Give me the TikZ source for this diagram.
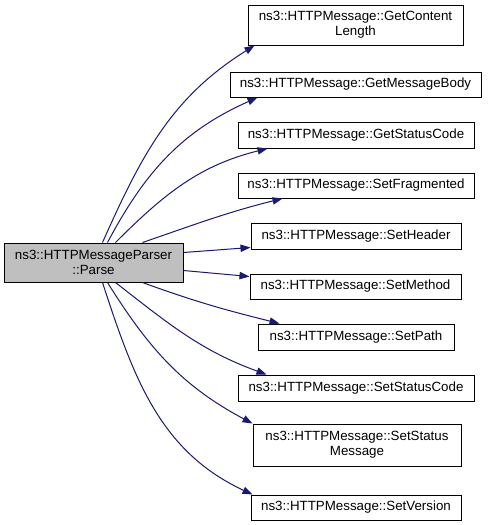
\documentclass[tikz,border=0pt]{standalone}
\usepackage{fontspec}
\setmainfont{Liberation Sans}
\usetikzlibrary{arrows.meta,calc}
\definecolor{edgeblue}{HTML}{191970}
\definecolor{boxgray}{HTML}{BFBFBF}
\tikzset{
  fbox/.style={draw=black, line width=0.75pt, rectangle, inner sep=0pt, align=center,
    font=\fontsize{10}{11.5}\selectfont, text=black},
  mainbox/.style={fbox, fill=boxgray},
  calls/.style={draw=edgeblue, line width=0.75pt, -{Triangle[length=7.5pt,width=5.5pt]}, edgeblue}
}
\begin{document}
\begin{tikzpicture}[x=0.75pt,y=0.75pt]
\useasboundingbox (0,0) rectangle (487,-525);
\node[mainbox, minimum width=179*0.75pt, minimum height=39*0.75pt] (p) at (93.5,-262.5) {ns3::HTTPMessageParser\\::Parse};
\node[fbox, minimum width=215*0.75pt, minimum height=40*0.75pt] (t1) at (355.5,-25) {ns3::HTTPMessage::GetContent\\Length};
\node[fbox, minimum width=251*0.75pt, minimum height=25*0.75pt] (t2) at (355.5,-84.5) {ns3::HTTPMessage::GetMessageBody};
\node[fbox, minimum width=236*0.75pt, minimum height=26*0.75pt] (t3) at (356,-135) {ns3::HTTPMessage::GetStatusCode};
\node[fbox, minimum width=236*0.75pt, minimum height=25*0.75pt] (t4) at (356,-185.5) {ns3::HTTPMessage::SetFragmented};
\node[fbox, minimum width=210*0.75pt, minimum height=26*0.75pt] (t5) at (356,-236) {ns3::HTTPMessage::SetHeader};
\node[fbox, minimum width=211*0.75pt, minimum height=25*0.75pt] (t6) at (355.5,-286.5) {ns3::HTTPMessage::SetMethod};
\node[fbox, minimum width=196*0.75pt, minimum height=26*0.75pt] (t7) at (356,-337) {ns3::HTTPMessage::SetPath};
\node[fbox, minimum width=236*0.75pt, minimum height=26*0.75pt] (t8) at (356,-388) {ns3::HTTPMessage::SetStatusCode};
\node[fbox, minimum width=208*0.75pt, minimum height=42*0.75pt] (t9) at (357,-445) {ns3::HTTPMessage::SetStatus\\Message};
\node[fbox, minimum width=210*0.75pt, minimum height=25*0.75pt] (t10) at (356,-507.5) {ns3::HTTPMessage::SetVersion};

\draw[calls] ($(p.north west)+(99,0)$) to[out=66,in=212] ($(t1.south west)+(7,0)$);
\draw[calls] ($(p.north west)+(104,0)$) to[out=62,in=204] ($(t2.south west)+(28,0)$);
\draw[calls] ($(p.north west)+(112,0)$) to[out=45,in=194] ($(t3.south west)+(30,0)$);
\draw[calls] ($(p.north west)+(139,0)$) to[out=19,in=194] ($(t4.south west)+(45,0)$);
\draw[calls] ($(p.north east)+(0,-10)$) -- ($(t5.south west)+(0,2)$);
\draw[calls] ($(p.south east)+(0,12)$) -- ($(t6.north west)+(0,-3)$);
\draw[calls] ($(p.south west)+(139,0)$) to[out=-20,in=166] ($(t7.north west)+(22,0)$);
\draw[calls] ($(p.south west)+(112,0)$) to[out=-38,in=160] ($(t8.north west)+(29,0)$);
\draw[calls] ($(p.south west)+(104,0)$) to[out=-58,in=152] (t9.north west);
\draw[calls] ($(p.south west)+(99,0)$) to[out=-72,in=155] ($(t10.north west)+(2,0)$);
\end{tikzpicture}
\end{document}
